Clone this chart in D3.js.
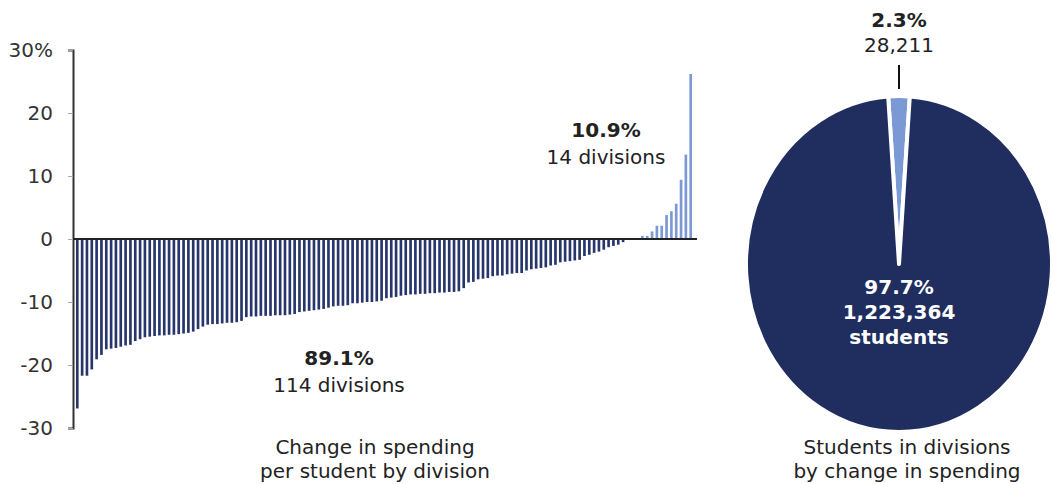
<!DOCTYPE html>
<html>
<head>
<meta charset="utf-8">
<script src="https://cdn.jsdelivr.net/npm/d3@7"></script>
<style>
  html, body { margin: 0; padding: 0; background: #fff; }
  svg { display: block; }
  text { font-family: "DejaVu Sans", "Noto Sans", sans-serif; }
</style>
</head>
<body>
<svg id="chart" width="1052" height="484"></svg>
<script>
// Per-student spending change for each division, sorted ascending (%)
const spendingChange = [
  -26.9, -21.7, -21.7, -20.7, -19.1, -18.4, -17.5, -17.4, -17.3, -17.1,
  -16.9, -16.8, -16.2, -15.9, -15.6, -15.5, -15.4, -15.3, -15.3, -15.2,
  -15.2, -15.1, -15.0, -14.9, -14.7, -14.3, -13.9, -13.6, -13.5, -13.5,
  -13.4, -13.3, -13.3, -13.2, -13.0, -12.4, -12.3, -12.3, -12.2, -12.2,
  -12.2, -12.1, -12.1, -12.1, -12.0, -11.9, -11.6, -11.5, -11.4, -11.3,
  -11.2, -11.1, -10.9, -10.7, -10.6, -10.6, -10.5, -10.2, -10.2, -10.1,
  -10.0, -10.0, -9.9, -9.8, -9.4, -9.3, -9.2, -9.0, -8.9, -8.8,
  -8.8, -8.7, -8.7, -8.6, -8.6, -8.5, -8.5, -8.4, -8.4, -8.3,
  -7.8, -6.9, -6.8, -6.4, -6.3, -6.2, -5.9, -5.8, -5.8, -5.6,
  -5.5, -5.4, -5.4, -5.0, -4.8, -4.7, -4.6, -4.5, -4.2, -4.1,
  -3.7, -3.6, -3.5, -3.4, -3.3, -2.7, -2.5, -2.2, -2.0, -1.7,
  -1.3, -1.1, -0.9, -0.5,
  0.1, 0.1, 0.1, 0.5, 0.5, 1.2, 2.1, 2.1, 3.8, 4.4,
  5.6, 9.4, 13.4, 26.2
];
const yTicks = [-30, -20, -10, 0, 10, 20, 30];
const yTickLabels = ["-30", "-20", "-10", "0", "10", "20", "30%"];

// Students split by direction of change
const pieGroups = ["Increase", "Decrease"];
const pieStudents = [28211, 1223364];
const piePercents = ["2.3%", "97.7%"];

const colors = { decrease: "#27356b", increase: "#7b99d4", pieDark: "#202d5f", text: "#222", axis: "#333" };
const FS = 20;

const svg = d3.select("#chart");

// ---- Bar chart ----
const x = d3.scaleBand()
  .domain(d3.range(spendingChange.length))
  .range([75, 693])
  .paddingInner(0.45)
  .paddingOuter(0.2);

const y = d3.scaleLinear().domain([-30, 30]).range([428, 50]);

svg.append("g")
  .selectAll("rect")
  .data(spendingChange)
  .join("rect")
  .attr("x", (d, i) => x(i))
  .attr("width", x.bandwidth())
  .attr("y", d => y(Math.max(0, d)))
  .attr("height", d => Math.abs(y(d) - y(0)))
  .attr("fill", d => d < 0 ? colors.decrease : colors.increase);

const yAxis = d3.axisLeft(y)
  .tickValues(yTicks)
  .tickFormat((d, i) => yTickLabels[i])
  .tickSize(5)
  .tickPadding(15);

const gy = svg.append("g")
  .attr("transform", "translate(73,0)")
  .call(yAxis);
gy.select(".domain").attr("stroke", colors.axis).attr("stroke-width", 2);
gy.selectAll(".tick line").attr("stroke", "#aaa");
gy.selectAll(".tick text")
  .attr("font-size", FS)
  .attr("fill", "#333")
  .style("font-family", "'DejaVu Sans', 'Noto Sans', sans-serif");

// zero baseline
svg.append("line")
  .attr("x1", 73).attr("x2", 697)
  .attr("y1", y(0)).attr("y2", y(0))
  .attr("stroke", "#222").attr("stroke-width", 2);

const negCount = spendingChange.filter(d => d < 0).length;
const posCount = spendingChange.length - negCount;
const fmtPct = d3.format(".1f");

function twoLine(g, cx, cy, bold, normal, color, gap) {
  g.append("text").attr("x", cx).attr("y", cy)
    .attr("text-anchor", "middle").attr("font-size", FS)
    .attr("font-weight", "bold").attr("fill", color).text(bold);
  g.append("text").attr("x", cx).attr("y", cy + gap)
    .attr("text-anchor", "middle").attr("font-size", FS)
    .attr("fill", color).text(normal);
}

const labels = svg.append("g");
twoLine(labels, 606, 137, fmtPct(posCount / spendingChange.length * 100) + "%",
  posCount + " divisions", colors.text, 27);
twoLine(labels, 339, 365, fmtPct(negCount / spendingChange.length * 100) + "%",
  negCount + " divisions", colors.text, 27);

// axis captions
function twoCaption(cx, cy, a, b) {
  svg.append("text").attr("x", cx).attr("y", cy).attr("text-anchor", "middle")
    .attr("font-size", FS).attr("fill", colors.text).text(a);
  svg.append("text").attr("x", cx).attr("y", cy + 24).attr("text-anchor", "middle")
    .attr("font-size", FS).attr("fill", colors.text).text(b);
}
twoCaption(375, 454, "Change in spending", "per student by division");
twoCaption(907, 454, "Students in divisions", "by change in spending");

// ---- Pie chart (drawn slightly taller than wide) ----
const cx = 899, cy = 264, rx = 153, ry = 168;
const share0 = pieStudents[0] / d3.sum(pieStudents);
const pie = d3.pie().sort(null)
  .startAngle(-Math.PI * share0)
  .endAngle(2 * Math.PI - Math.PI * share0);
const arc = d3.arc().innerRadius(0).outerRadius(rx);
const arcs = pie(pieStudents);

const pg = svg.append("g").attr("transform", `translate(${cx},${cy}) scale(1,${ry / rx})`);
pg.selectAll("path")
  .data(arcs)
  .join("path")
  .attr("d", arc)
  .attr("fill", (d, i) => i === 0 ? colors.increase : colors.pieDark)
  .attr("stroke", "#fff")
  .attr("stroke-width", 4)
  .attr("vector-effect", "non-scaling-stroke")
  .attr("stroke-linejoin", "round");

// leader line to the small slice
svg.append("line")
  .attr("x1", cx).attr("x2", cx)
  .attr("y1", cy - ry - 7).attr("y2", cy - ry - 31)
  .attr("stroke", "#111").attr("stroke-width", 2);

const fmtN = d3.format(",");
twoLine(svg.append("g"), cx, 27, piePercents[0], fmtN(pieStudents[0]), colors.text, 25);

const inner = svg.append("g").attr("font-weight", "bold");
[piePercents[1], fmtN(pieStudents[1]), "students"].forEach((t, i) => {
  inner.append("text").attr("x", cx).attr("y", 294 + i * 25)
    .attr("text-anchor", "middle").attr("font-size", FS)
    .attr("fill", "#fff").text(t);
});
</script>
</body>
</html>
